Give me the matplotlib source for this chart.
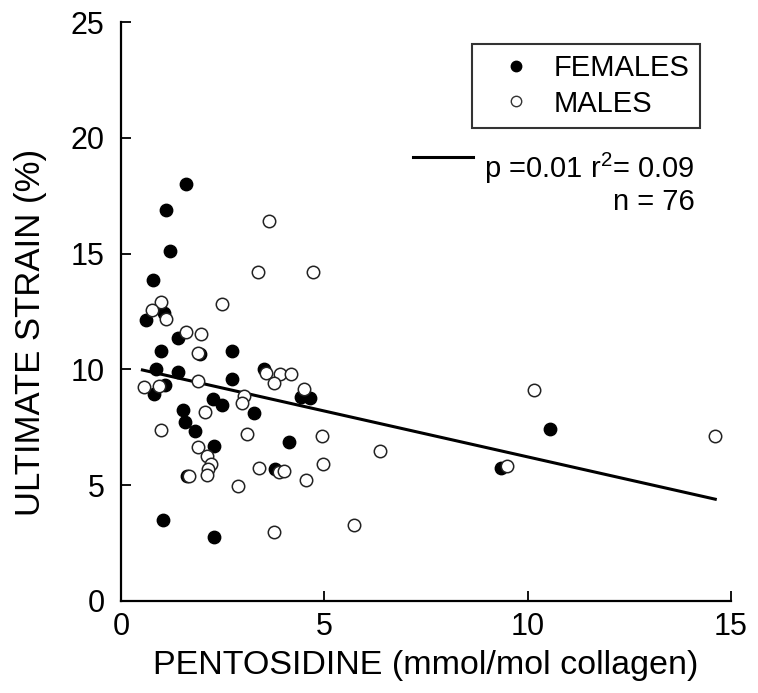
import matplotlib
matplotlib.use("Agg")
import matplotlib.pyplot as plt
from matplotlib.lines import Line2D
import numpy as np

plt.rcParams['font.family'] = ['Liberation Sans', 'DejaVu Sans']
plt.rcParams['mathtext.fontset'] = 'custom'
plt.rcParams['mathtext.rm'] = 'Liberation Sans'

# --- data ---
fem_x = [1.59, 1.10, 1.19, 0.77, 0.62, 1.04, 1.39, 0.98, 1.93, 2.73, 0.86, 1.39,
         2.73, 0.81, 1.07, 1.51, 1.56, 1.81, 2.26, 2.49, 3.27, 2.27, 4.14, 3.51,
         4.42, 4.65, 3.78, 1.62, 1.02, 2.27, 9.35, 10.56]
fem_y = [18.0, 16.9, 15.1, 13.85, 12.15, 12.43, 11.35, 10.78, 10.66, 10.78, 10.0, 9.87,
         9.6, 8.93, 9.33, 8.25, 7.72, 7.35, 8.7, 8.46, 8.1, 6.7, 6.85, 10.0,
         8.82, 8.77, 5.70, 5.40, 3.5, 2.77, 5.72, 7.42]

male_x = [3.64, 3.36, 4.72, 2.48, 0.97, 0.76, 1.10, 1.60, 1.97, 1.90, 3.55, 3.90,
          4.18, 3.77, 4.50, 1.89, 0.55, 0.94, 3.02, 2.97, 2.05, 0.98, 3.10, 1.89,
          2.10, 2.22, 2.14, 2.12, 1.67, 2.88, 3.40, 3.88, 4.01, 4.93, 4.97, 4.55,
          6.38, 5.73, 3.76, 10.16, 9.49, 14.62]
male_y = [16.4, 14.21, 14.21, 12.84, 12.9, 12.55, 12.16, 11.62, 11.54, 10.72, 9.85, 9.78,
          9.78, 9.41, 9.15, 9.49, 9.22, 9.26, 8.83, 8.53, 8.17, 7.36, 7.2, 6.63,
          6.27, 5.92, 5.69, 5.42, 5.41, 4.95, 5.76, 5.56, 5.63, 7.14, 5.9, 5.23,
          6.47, 3.28, 2.98, 9.09, 5.81, 7.12]

# regression line: strain = intercept + slope * pentosidine
fit_range = [0.52, 14.62]
fit_intercept = 10.18
fit_slope = -0.396

# --- plot ---
fig = plt.figure(figsize=(7.58, 6.93), dpi=100)
ax = fig.add_axes([0.16, 0.133, 0.804, 0.835])

ax.scatter(fem_x, fem_y, s=80, color='black', edgecolors='black', linewidths=1.0, zorder=3)
ax.scatter(male_x, male_y, s=80, facecolors='white', edgecolors='#222222', linewidths=1.1, zorder=4)

fx = np.array(fit_range)
ax.plot(fx, fit_intercept + fit_slope * fx, color='black', lw=2.2, zorder=2)

ax.set_xlim(0, 15)
ax.set_ylim(0, 25)
ax.set_xticks([0, 5, 10, 15])
ax.set_yticks([0, 5, 10, 15, 20, 25])
ax.spines['top'].set_visible(False)
ax.spines['right'].set_visible(False)
ax.spines['left'].set_linewidth(1.6)
ax.spines['bottom'].set_linewidth(1.6)
ax.tick_params(axis='both', direction='in', length=7, width=1.3, labelsize=22)
ax.tick_params(axis='x', pad=8)
ax.tick_params(axis='y', pad=12)

ax.set_xlabel("PENTOSIDINE (mmol/mol collagen)", fontsize=24.5, labelpad=6)
ax.set_ylabel("ULTIMATE STRAIN (%)", fontsize=25)
ax.yaxis.set_label_coords(-0.122, 0.463)

# legend
handles = [
    Line2D([], [], ls='none', marker='o', ms=7.5, mfc='black', mec='black'),
    Line2D([], [], ls='none', marker='o', ms=7.5, mfc='white', mec='#333333', mew=1.0),
]
leg = ax.legend(handles, ["FEMALES", "MALES"], loc='upper right',
                bbox_to_anchor=(0.949, 0.962), borderaxespad=0, fontsize=21,
                frameon=True, fancybox=False, edgecolor='black',
                handlelength=2.28, handletextpad=0.15, labelspacing=0.25, borderpad=0.35)
leg.get_frame().set_linewidth(1.5)

# regression annotation
ax.plot([0.479, 0.577], [0.767, 0.767], transform=ax.transAxes, color='black', lw=2.2)
ax.text(0.941, 0.730, "p =0.01 r$^2$= 0.09", transform=ax.transAxes,
        ha='right', va='baseline', fontsize=21)
ax.text(0.941, 0.675, "n = 76", transform=ax.transAxes,
        ha='right', va='baseline', fontsize=21)

fig.savefig("out.png", dpi=100)
